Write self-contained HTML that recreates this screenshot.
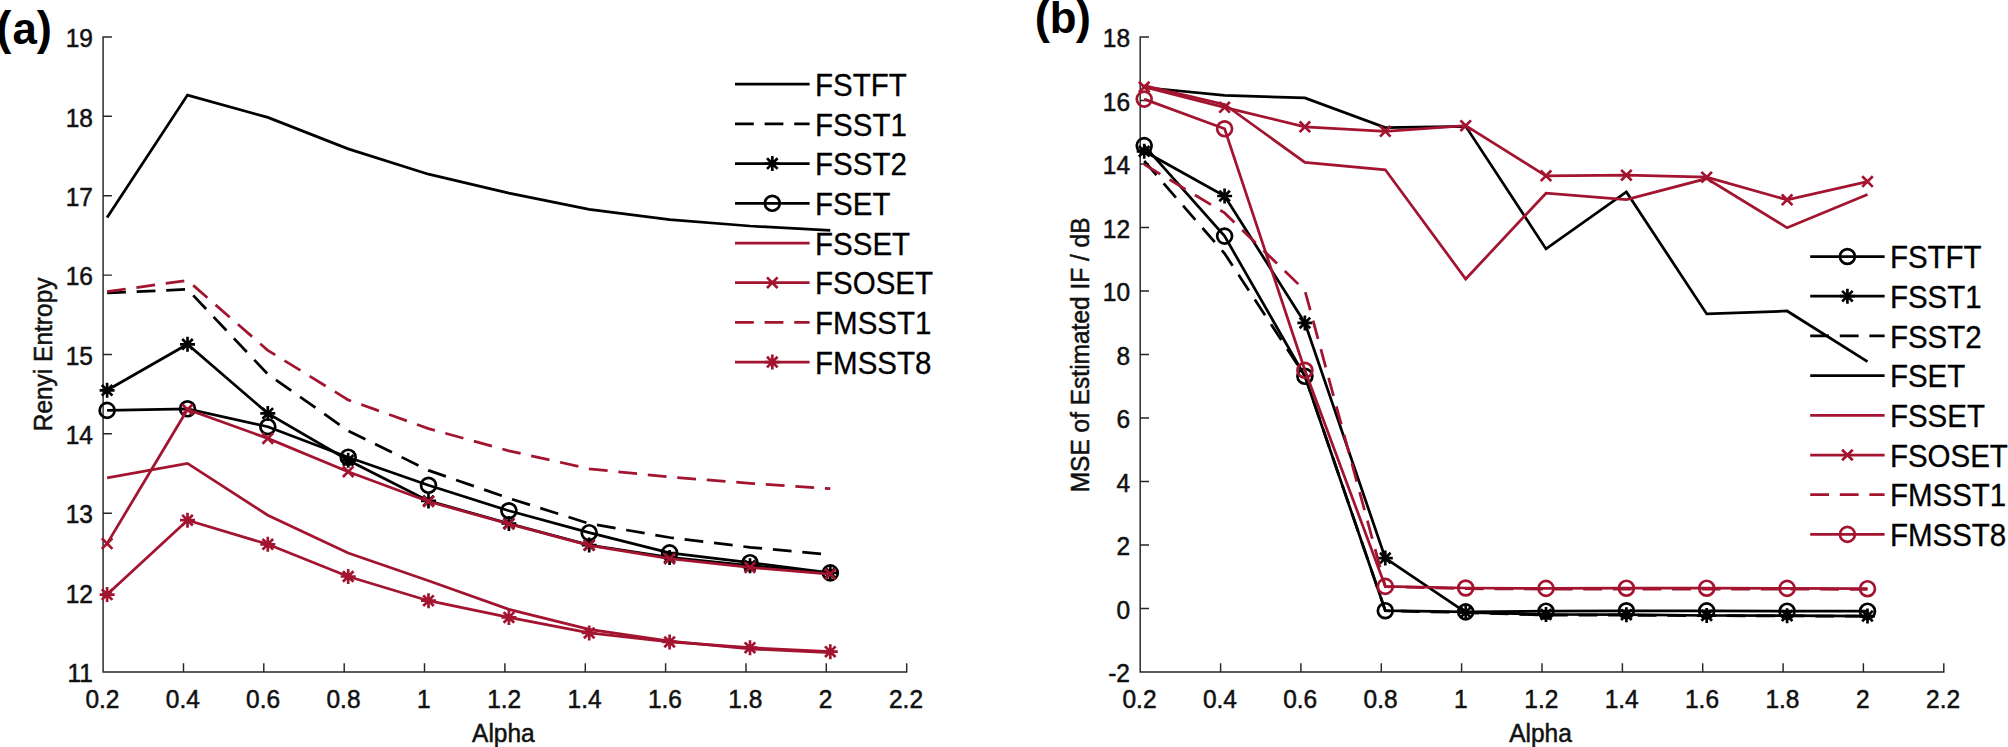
<!DOCTYPE html>
<html lang="en"><head><meta charset="utf-8"><title>Figure</title>
<style>
html,body{margin:0;padding:0;background:#fff}
svg{display:block}
text{font-family:"Liberation Sans",sans-serif;fill:#111;stroke:#111;stroke-width:0.5px}
.tk{font-size:24.5px}
.lg{font-size:29.5px;fill:#000;stroke:#000;stroke-width:0.3px}
.pl{font-size:43.8px;font-weight:bold;fill:#000;stroke:none}
.pp{font-size:45.6px}
</style></head><body>
<svg width="2008" height="747" viewBox="0 0 2008 747">
<rect width="2008" height="747" fill="#fff"/>
<text y="44.2" class="pl"><tspan x="-3.8" class="pp">(</tspan><tspan x="12.5">a</tspan><tspan x="36.8" class="pp">)</tspan></text>
<text y="33.1" class="pl"><tspan x="1034.8" class="pp">(</tspan><tspan x="1049.8">b</tspan><tspan x="1075.8" class="pp">)</tspan></text>
<path d="M103.1 36.2V672.0H907.4M103.1 672.0v-8.8M183.5 672.0v-8.8M263.8 672.0v-8.8M344.2 672.0v-8.8M424.5 672.0v-8.8M504.9 672.0v-8.8M585.3 672.0v-8.8M665.6 672.0v-8.8M746.0 672.0v-8.8M826.3 672.0v-8.8M906.7 672.0v-8.8M103.1 672.0h8.8M103.1 592.6h8.8M103.1 513.2h8.8M103.1 433.8h8.8M103.1 354.4h8.8M103.1 275.1h8.8M103.1 195.7h8.8M103.1 116.3h8.8M103.1 36.9h8.8" stroke="#262626" stroke-width="1.45" fill="none"/>
<text transform="translate(102.4 708.0) scale(1 1.03)" class="tk" text-anchor="middle">0.2</text>
<text transform="translate(182.8 708.0) scale(1 1.03)" class="tk" text-anchor="middle">0.4</text>
<text transform="translate(263.1 708.0) scale(1 1.03)" class="tk" text-anchor="middle">0.6</text>
<text transform="translate(343.5 708.0) scale(1 1.03)" class="tk" text-anchor="middle">0.8</text>
<text transform="translate(423.8 708.0) scale(1 1.03)" class="tk" text-anchor="middle">1</text>
<text transform="translate(504.2 708.0) scale(1 1.03)" class="tk" text-anchor="middle">1.2</text>
<text transform="translate(584.6 708.0) scale(1 1.03)" class="tk" text-anchor="middle">1.4</text>
<text transform="translate(664.9 708.0) scale(1 1.03)" class="tk" text-anchor="middle">1.6</text>
<text transform="translate(745.3 708.0) scale(1 1.03)" class="tk" text-anchor="middle">1.8</text>
<text transform="translate(825.6 708.0) scale(1 1.03)" class="tk" text-anchor="middle">2</text>
<text transform="translate(906.0 708.0) scale(1 1.03)" class="tk" text-anchor="middle">2.2</text>
<text transform="translate(92.9 682.2) scale(1 1.03)" class="tk" text-anchor="end">11</text>
<text transform="translate(92.9 602.8) scale(1 1.03)" class="tk" text-anchor="end">12</text>
<text transform="translate(92.9 523.4) scale(1 1.03)" class="tk" text-anchor="end">13</text>
<text transform="translate(92.9 444.0) scale(1 1.03)" class="tk" text-anchor="end">14</text>
<text transform="translate(92.9 364.6) scale(1 1.03)" class="tk" text-anchor="end">15</text>
<text transform="translate(92.9 285.2) scale(1 1.03)" class="tk" text-anchor="end">16</text>
<text transform="translate(92.9 205.9) scale(1 1.03)" class="tk" text-anchor="end">17</text>
<text transform="translate(92.9 126.5) scale(1 1.03)" class="tk" text-anchor="end">18</text>
<text transform="translate(92.9 47.1) scale(1 1.03)" class="tk" text-anchor="end">19</text>
<text transform="translate(503.4 741.6) scale(1 1.03)" class="tk" text-anchor="middle">Alpha</text>
<text transform="translate(52.2 354.4) rotate(-90) scale(1 1.03)" class="tk" text-anchor="middle">Renyi Entropy</text>
<polyline points="107.1,217.6 187.5,95.1 267.8,117.4 348.2,148.9 428.5,174.2 508.9,193.2 589.2,209.3 669.6,219.7 750.0,226.0 830.3,230.4" fill="none" stroke="#000000" stroke-width="2.75" stroke-linejoin="miter"/>
<polyline points="107.1,293.0 187.5,289.3 267.8,374.2 348.2,430.8 428.5,470.4 508.9,498.2 589.2,523.6 669.6,537.5 750.0,547.3 830.3,554.6" fill="none" stroke="#000000" stroke-width="2.75" stroke-linejoin="miter" stroke-dasharray="18.8 10.8"/>
<polyline points="107.1,390.3 187.5,344.3 267.8,413.4 348.2,460.3 428.5,500.9 508.9,523.5 589.2,545.1 669.6,557.4 750.0,565.7 830.3,572.8" fill="none" stroke="#000000" stroke-width="2.75" stroke-linejoin="miter"/>
<path d="M99.6 390.3H114.6M107.1 382.8V397.8M101.8 385.0L112.4 395.6M101.8 395.6L112.4 385.0" stroke="#000000" stroke-width="2.7" fill="none"/>
<path d="M180.0 344.3H195.0M187.5 336.8V351.8M182.2 339.0L192.8 349.6M182.2 349.6L192.8 339.0" stroke="#000000" stroke-width="2.7" fill="none"/>
<path d="M260.3 413.4H275.3M267.8 405.9V420.9M262.5 408.1L273.1 418.7M262.5 418.7L273.1 408.1" stroke="#000000" stroke-width="2.7" fill="none"/>
<path d="M340.7 460.3H355.7M348.2 452.8V467.8M342.9 455.0L353.5 465.6M342.9 465.6L353.5 455.0" stroke="#000000" stroke-width="2.7" fill="none"/>
<path d="M421.0 500.9H436.0M428.5 493.4V508.4M423.2 495.6L433.8 506.2M423.2 506.2L433.8 495.6" stroke="#000000" stroke-width="2.7" fill="none"/>
<path d="M501.4 523.5H516.4M508.9 516.0V531.0M503.6 518.2L514.2 528.8M503.6 528.8L514.2 518.2" stroke="#000000" stroke-width="2.7" fill="none"/>
<path d="M581.7 545.1H596.7M589.2 537.6V552.6M583.9 539.8L594.5 550.4M583.9 550.4L594.5 539.8" stroke="#000000" stroke-width="2.7" fill="none"/>
<path d="M662.1 557.4H677.1M669.6 549.9V564.9M664.3 552.1L674.9 562.7M664.3 562.7L674.9 552.1" stroke="#000000" stroke-width="2.7" fill="none"/>
<path d="M742.5 565.7H757.5M750.0 558.2V573.2M744.7 560.4L755.3 571.0M744.7 571.0L755.3 560.4" stroke="#000000" stroke-width="2.7" fill="none"/>
<path d="M822.8 572.8H837.8M830.3 565.3V580.3M825.0 567.5L835.6 578.1M825.0 578.1L835.6 567.5" stroke="#000000" stroke-width="2.7" fill="none"/>
<polyline points="107.1,410.4 187.5,408.8 267.8,426.7 348.2,457.2 428.5,485.3 508.9,510.8 589.2,532.7 669.6,552.9 750.0,562.7 830.3,572.9" fill="none" stroke="#000000" stroke-width="2.75" stroke-linejoin="miter"/>
<circle cx="107.1" cy="410.4" r="7.45" stroke="#000000" stroke-width="2.7" fill="none"/>
<circle cx="187.5" cy="408.8" r="7.45" stroke="#000000" stroke-width="2.7" fill="none"/>
<circle cx="267.8" cy="426.7" r="7.45" stroke="#000000" stroke-width="2.7" fill="none"/>
<circle cx="348.2" cy="457.2" r="7.45" stroke="#000000" stroke-width="2.7" fill="none"/>
<circle cx="428.5" cy="485.3" r="7.45" stroke="#000000" stroke-width="2.7" fill="none"/>
<circle cx="508.9" cy="510.8" r="7.45" stroke="#000000" stroke-width="2.7" fill="none"/>
<circle cx="589.2" cy="532.7" r="7.45" stroke="#000000" stroke-width="2.7" fill="none"/>
<circle cx="669.6" cy="552.9" r="7.45" stroke="#000000" stroke-width="2.7" fill="none"/>
<circle cx="750.0" cy="562.7" r="7.45" stroke="#000000" stroke-width="2.7" fill="none"/>
<circle cx="830.3" cy="572.9" r="7.45" stroke="#000000" stroke-width="2.7" fill="none"/>
<polyline points="107.1,477.8 187.5,463.4 267.8,515.2 348.2,553.0 428.5,580.7 508.9,609.4 589.2,629.4 669.6,641.2 750.0,648.9 830.3,652.7" fill="none" stroke="#A2142F" stroke-width="2.75" stroke-linejoin="miter"/>
<polyline points="107.1,543.6 187.5,409.5 267.8,438.4 348.2,471.7 428.5,501.5 508.9,523.9 589.2,545.3 669.6,558.7 750.0,567.4 830.3,574.1" fill="none" stroke="#A2142F" stroke-width="2.75" stroke-linejoin="miter"/>
<path d="M101.8 538.3L112.4 548.9M101.8 548.9L112.4 538.3" stroke="#A2142F" stroke-width="2.7" fill="none"/>
<path d="M182.2 404.2L192.8 414.8M182.2 414.8L192.8 404.2" stroke="#A2142F" stroke-width="2.7" fill="none"/>
<path d="M262.5 433.1L273.1 443.7M262.5 443.7L273.1 433.1" stroke="#A2142F" stroke-width="2.7" fill="none"/>
<path d="M342.9 466.4L353.5 477.0M342.9 477.0L353.5 466.4" stroke="#A2142F" stroke-width="2.7" fill="none"/>
<path d="M423.2 496.2L433.8 506.8M423.2 506.8L433.8 496.2" stroke="#A2142F" stroke-width="2.7" fill="none"/>
<path d="M503.6 518.6L514.2 529.2M503.6 529.2L514.2 518.6" stroke="#A2142F" stroke-width="2.7" fill="none"/>
<path d="M583.9 540.0L594.5 550.6M583.9 550.6L594.5 540.0" stroke="#A2142F" stroke-width="2.7" fill="none"/>
<path d="M664.3 553.4L674.9 564.0M664.3 564.0L674.9 553.4" stroke="#A2142F" stroke-width="2.7" fill="none"/>
<path d="M744.7 562.1L755.3 572.7M744.7 572.7L755.3 562.1" stroke="#A2142F" stroke-width="2.7" fill="none"/>
<path d="M825.0 568.8L835.6 579.4M825.0 579.4L835.6 568.8" stroke="#A2142F" stroke-width="2.7" fill="none"/>
<polyline points="107.1,291.6 187.5,280.4 267.8,350.3 348.2,399.9 428.5,428.6 508.9,450.8 589.2,468.8 669.6,477.0 750.0,483.3 830.3,488.7" fill="none" stroke="#A2142F" stroke-width="2.75" stroke-linejoin="miter" stroke-dasharray="18.8 10.8"/>
<polyline points="107.1,594.6 187.5,520.2 267.8,544.3 348.2,576.5 428.5,600.7 508.9,617.4 589.2,632.9 669.6,641.9 750.0,647.7 830.3,651.7" fill="none" stroke="#A2142F" stroke-width="2.75" stroke-linejoin="miter"/>
<path d="M99.6 594.6H114.6M107.1 587.1V602.1M101.8 589.3L112.4 599.9M101.8 599.9L112.4 589.3" stroke="#A2142F" stroke-width="2.7" fill="none"/>
<path d="M180.0 520.2H195.0M187.5 512.7V527.7M182.2 514.9L192.8 525.5M182.2 525.5L192.8 514.9" stroke="#A2142F" stroke-width="2.7" fill="none"/>
<path d="M260.3 544.3H275.3M267.8 536.8V551.8M262.5 539.0L273.1 549.6M262.5 549.6L273.1 539.0" stroke="#A2142F" stroke-width="2.7" fill="none"/>
<path d="M340.7 576.5H355.7M348.2 569.0V584.0M342.9 571.2L353.5 581.8M342.9 581.8L353.5 571.2" stroke="#A2142F" stroke-width="2.7" fill="none"/>
<path d="M421.0 600.7H436.0M428.5 593.2V608.2M423.2 595.4L433.8 606.0M423.2 606.0L433.8 595.4" stroke="#A2142F" stroke-width="2.7" fill="none"/>
<path d="M501.4 617.4H516.4M508.9 609.9V624.9M503.6 612.1L514.2 622.7M503.6 622.7L514.2 612.1" stroke="#A2142F" stroke-width="2.7" fill="none"/>
<path d="M581.7 632.9H596.7M589.2 625.4V640.4M583.9 627.6L594.5 638.2M583.9 638.2L594.5 627.6" stroke="#A2142F" stroke-width="2.7" fill="none"/>
<path d="M662.1 641.9H677.1M669.6 634.4V649.4M664.3 636.6L674.9 647.2M664.3 647.2L674.9 636.6" stroke="#A2142F" stroke-width="2.7" fill="none"/>
<path d="M742.5 647.7H757.5M750.0 640.2V655.2M744.7 642.4L755.3 653.0M744.7 653.0L755.3 642.4" stroke="#A2142F" stroke-width="2.7" fill="none"/>
<path d="M822.8 651.7H837.8M830.3 644.2V659.2M825.0 646.4L835.6 657.0M825.0 657.0L835.6 646.4" stroke="#A2142F" stroke-width="2.7" fill="none"/>
<line x1="735.0" y1="84.2" x2="809.6" y2="84.2" stroke="#000000" stroke-width="2.75"/>
<text transform="translate(815.1 95.8) scale(1 1.07)" class="lg">FSTFT</text>
<line x1="735.0" y1="123.9" x2="809.6" y2="123.9" stroke="#000000" stroke-width="2.75" stroke-dasharray="18.8 10.8"/>
<text transform="translate(815.1 135.5) scale(1 1.07)" class="lg">FSST1</text>
<line x1="735.0" y1="163.6" x2="809.6" y2="163.6" stroke="#000000" stroke-width="2.75"/>
<path d="M764.8 163.6H779.8M772.3 156.1V171.1M767.0 158.3L777.6 168.9M767.0 168.9L777.6 158.3" stroke="#000000" stroke-width="2.7" fill="none"/>
<text transform="translate(815.1 175.2) scale(1 1.07)" class="lg">FSST2</text>
<line x1="735.0" y1="203.3" x2="809.6" y2="203.3" stroke="#000000" stroke-width="2.75"/>
<circle cx="772.3" cy="203.3" r="7.45" stroke="#000000" stroke-width="2.7" fill="none"/>
<text transform="translate(815.1 214.9) scale(1 1.07)" class="lg">FSET</text>
<line x1="735.0" y1="243.0" x2="809.6" y2="243.0" stroke="#A2142F" stroke-width="2.75"/>
<text transform="translate(815.1 254.6) scale(1 1.07)" class="lg">FSSET</text>
<line x1="735.0" y1="282.7" x2="809.6" y2="282.7" stroke="#A2142F" stroke-width="2.75"/>
<path d="M767.0 277.4L777.6 288.0M767.0 288.0L777.6 277.4" stroke="#A2142F" stroke-width="2.7" fill="none"/>
<text transform="translate(815.1 294.3) scale(1 1.07)" class="lg">FSOSET</text>
<line x1="735.0" y1="322.4" x2="809.6" y2="322.4" stroke="#A2142F" stroke-width="2.75" stroke-dasharray="18.8 10.8"/>
<text transform="translate(815.1 334.0) scale(1 1.07)" class="lg">FMSST1</text>
<line x1="735.0" y1="362.1" x2="809.6" y2="362.1" stroke="#A2142F" stroke-width="2.75"/>
<path d="M764.8 362.1H779.8M772.3 354.6V369.6M767.0 356.8L777.6 367.4M767.0 367.4L777.6 356.8" stroke="#A2142F" stroke-width="2.7" fill="none"/>
<text transform="translate(815.1 373.7) scale(1 1.07)" class="lg">FMSST8</text>
<path d="M1140.2 36.2V672.0H1944.5M1140.2 672.0v-8.8M1220.6 672.0v-8.8M1300.9 672.0v-8.8M1381.3 672.0v-8.8M1461.6 672.0v-8.8M1542.0 672.0v-8.8M1622.4 672.0v-8.8M1702.7 672.0v-8.8M1783.1 672.0v-8.8M1863.4 672.0v-8.8M1943.8 672.0v-8.8M1140.2 672.0h8.8M1140.2 608.5h8.8M1140.2 545.0h8.8M1140.2 481.5h8.8M1140.2 418.0h8.8M1140.2 354.4h8.8M1140.2 290.9h8.8M1140.2 227.4h8.8M1140.2 163.9h8.8M1140.2 100.4h8.8M1140.2 36.9h8.8" stroke="#262626" stroke-width="1.45" fill="none"/>
<text transform="translate(1139.5 708.0) scale(1 1.03)" class="tk" text-anchor="middle">0.2</text>
<text transform="translate(1219.9 708.0) scale(1 1.03)" class="tk" text-anchor="middle">0.4</text>
<text transform="translate(1300.2 708.0) scale(1 1.03)" class="tk" text-anchor="middle">0.6</text>
<text transform="translate(1380.6 708.0) scale(1 1.03)" class="tk" text-anchor="middle">0.8</text>
<text transform="translate(1460.9 708.0) scale(1 1.03)" class="tk" text-anchor="middle">1</text>
<text transform="translate(1541.3 708.0) scale(1 1.03)" class="tk" text-anchor="middle">1.2</text>
<text transform="translate(1621.7 708.0) scale(1 1.03)" class="tk" text-anchor="middle">1.4</text>
<text transform="translate(1702.0 708.0) scale(1 1.03)" class="tk" text-anchor="middle">1.6</text>
<text transform="translate(1782.4 708.0) scale(1 1.03)" class="tk" text-anchor="middle">1.8</text>
<text transform="translate(1862.7 708.0) scale(1 1.03)" class="tk" text-anchor="middle">2</text>
<text transform="translate(1943.1 708.0) scale(1 1.03)" class="tk" text-anchor="middle">2.2</text>
<text transform="translate(1130.0 682.2) scale(1 1.03)" class="tk" text-anchor="end">-2</text>
<text transform="translate(1130.0 618.7) scale(1 1.03)" class="tk" text-anchor="end">0</text>
<text transform="translate(1130.0 555.2) scale(1 1.03)" class="tk" text-anchor="end">2</text>
<text transform="translate(1130.0 491.7) scale(1 1.03)" class="tk" text-anchor="end">4</text>
<text transform="translate(1130.0 428.2) scale(1 1.03)" class="tk" text-anchor="end">6</text>
<text transform="translate(1130.0 364.6) scale(1 1.03)" class="tk" text-anchor="end">8</text>
<text transform="translate(1130.0 301.1) scale(1 1.03)" class="tk" text-anchor="end">10</text>
<text transform="translate(1130.0 237.6) scale(1 1.03)" class="tk" text-anchor="end">12</text>
<text transform="translate(1130.0 174.1) scale(1 1.03)" class="tk" text-anchor="end">14</text>
<text transform="translate(1130.0 110.6) scale(1 1.03)" class="tk" text-anchor="end">16</text>
<text transform="translate(1130.0 47.1) scale(1 1.03)" class="tk" text-anchor="end">18</text>
<text transform="translate(1540.5 741.6) scale(1 1.03)" class="tk" text-anchor="middle">Alpha</text>
<text transform="translate(1089.1 354.9) rotate(-90) scale(1 1.03)" class="tk" text-anchor="middle">MSE of Estimated IF / dB</text>
<polyline points="1144.2,145.6 1224.6,236.1 1304.9,376.3 1385.3,610.7 1465.7,611.9 1546.0,611.2 1626.4,610.8 1706.7,610.9 1787.1,611.2 1867.5,611.2" fill="none" stroke="#000000" stroke-width="2.75" stroke-linejoin="miter"/>
<circle cx="1144.2" cy="145.6" r="7.45" stroke="#000000" stroke-width="2.7" fill="none"/>
<circle cx="1224.6" cy="236.1" r="7.45" stroke="#000000" stroke-width="2.7" fill="none"/>
<circle cx="1304.9" cy="376.3" r="7.45" stroke="#000000" stroke-width="2.7" fill="none"/>
<circle cx="1385.3" cy="610.7" r="7.45" stroke="#000000" stroke-width="2.7" fill="none"/>
<circle cx="1465.7" cy="611.9" r="7.45" stroke="#000000" stroke-width="2.7" fill="none"/>
<circle cx="1546.0" cy="611.2" r="7.45" stroke="#000000" stroke-width="2.7" fill="none"/>
<circle cx="1626.4" cy="610.8" r="7.45" stroke="#000000" stroke-width="2.7" fill="none"/>
<circle cx="1706.7" cy="610.9" r="7.45" stroke="#000000" stroke-width="2.7" fill="none"/>
<circle cx="1787.1" cy="611.2" r="7.45" stroke="#000000" stroke-width="2.7" fill="none"/>
<circle cx="1867.5" cy="611.2" r="7.45" stroke="#000000" stroke-width="2.7" fill="none"/>
<polyline points="1144.2,151.3 1224.6,196.0 1304.9,322.9 1385.3,558.1 1465.7,612.3 1546.0,614.5 1626.4,614.7 1706.7,615.5 1787.1,615.7 1867.5,616.1" fill="none" stroke="#000000" stroke-width="2.75" stroke-linejoin="miter"/>
<path d="M1136.7 151.3H1151.7M1144.2 143.8V158.8M1138.9 146.0L1149.5 156.6M1138.9 156.6L1149.5 146.0" stroke="#000000" stroke-width="2.7" fill="none"/>
<path d="M1217.1 196.0H1232.1M1224.6 188.5V203.5M1219.3 190.7L1229.9 201.3M1219.3 201.3L1229.9 190.7" stroke="#000000" stroke-width="2.7" fill="none"/>
<path d="M1297.4 322.9H1312.4M1304.9 315.4V330.4M1299.6 317.6L1310.2 328.2M1299.6 328.2L1310.2 317.6" stroke="#000000" stroke-width="2.7" fill="none"/>
<path d="M1377.8 558.1H1392.8M1385.3 550.6V565.6M1380.0 552.8L1390.6 563.4M1380.0 563.4L1390.6 552.8" stroke="#000000" stroke-width="2.7" fill="none"/>
<path d="M1458.2 612.3H1473.2M1465.7 604.8V619.8M1460.4 607.0L1471.0 617.6M1460.4 617.6L1471.0 607.0" stroke="#000000" stroke-width="2.7" fill="none"/>
<path d="M1538.5 614.5H1553.5M1546.0 607.0V622.0M1540.7 609.2L1551.3 619.8M1540.7 619.8L1551.3 609.2" stroke="#000000" stroke-width="2.7" fill="none"/>
<path d="M1618.9 614.7H1633.9M1626.4 607.2V622.2M1621.1 609.4L1631.7 620.0M1621.1 620.0L1631.7 609.4" stroke="#000000" stroke-width="2.7" fill="none"/>
<path d="M1699.2 615.5H1714.2M1706.7 608.0V623.0M1701.4 610.2L1712.0 620.8M1701.4 620.8L1712.0 610.2" stroke="#000000" stroke-width="2.7" fill="none"/>
<path d="M1779.6 615.7H1794.6M1787.1 608.2V623.2M1781.8 610.4L1792.4 621.0M1781.8 621.0L1792.4 610.4" stroke="#000000" stroke-width="2.7" fill="none"/>
<path d="M1860.0 616.1H1875.0M1867.5 608.6V623.6M1862.2 610.8L1872.8 621.4M1862.2 621.4L1872.8 610.8" stroke="#000000" stroke-width="2.7" fill="none"/>
<polyline points="1144.2,161.0 1224.6,253.5 1304.9,376.0 1385.3,610.7 1465.7,612.6 1546.0,615.2 1626.4,615.2 1706.7,615.7 1787.1,615.9 1867.5,616.2" fill="none" stroke="#000000" stroke-width="2.75" stroke-linejoin="miter" stroke-dasharray="18.8 10.8"/>
<polyline points="1144.2,87.5 1224.6,95.3 1304.9,97.9 1385.3,127.5 1465.7,126.3 1546.0,248.9 1626.4,192.0 1706.7,313.9 1787.1,311.0 1867.5,361.6" fill="none" stroke="#000000" stroke-width="2.75" stroke-linejoin="miter"/>
<polyline points="1144.2,85.6 1224.6,104.5 1304.9,162.4 1385.3,169.8 1465.7,279.0 1546.0,193.2 1626.4,199.5 1706.7,178.6 1787.1,227.8 1867.5,194.4" fill="none" stroke="#A2142F" stroke-width="2.75" stroke-linejoin="miter"/>
<polyline points="1144.2,87.0 1224.6,107.3 1304.9,126.8 1385.3,131.3 1465.7,125.7 1546.0,175.8 1626.4,175.2 1706.7,177.2 1787.1,199.8 1867.5,181.6" fill="none" stroke="#A2142F" stroke-width="2.75" stroke-linejoin="miter"/>
<path d="M1138.9 81.7L1149.5 92.3M1138.9 92.3L1149.5 81.7" stroke="#A2142F" stroke-width="2.7" fill="none"/>
<path d="M1219.3 102.0L1229.9 112.6M1219.3 112.6L1229.9 102.0" stroke="#A2142F" stroke-width="2.7" fill="none"/>
<path d="M1299.6 121.5L1310.2 132.1M1299.6 132.1L1310.2 121.5" stroke="#A2142F" stroke-width="2.7" fill="none"/>
<path d="M1380.0 126.0L1390.6 136.6M1380.0 136.6L1390.6 126.0" stroke="#A2142F" stroke-width="2.7" fill="none"/>
<path d="M1460.4 120.4L1471.0 131.0M1460.4 131.0L1471.0 120.4" stroke="#A2142F" stroke-width="2.7" fill="none"/>
<path d="M1540.7 170.5L1551.3 181.1M1540.7 181.1L1551.3 170.5" stroke="#A2142F" stroke-width="2.7" fill="none"/>
<path d="M1621.1 169.9L1631.7 180.5M1621.1 180.5L1631.7 169.9" stroke="#A2142F" stroke-width="2.7" fill="none"/>
<path d="M1701.4 171.9L1712.0 182.5M1701.4 182.5L1712.0 171.9" stroke="#A2142F" stroke-width="2.7" fill="none"/>
<path d="M1781.8 194.5L1792.4 205.1M1781.8 205.1L1792.4 194.5" stroke="#A2142F" stroke-width="2.7" fill="none"/>
<path d="M1862.2 176.3L1872.8 186.9M1862.2 186.9L1872.8 176.3" stroke="#A2142F" stroke-width="2.7" fill="none"/>
<polyline points="1144.2,164.4 1224.6,212.9 1304.9,290.5 1385.3,586.6 1465.7,588.7 1546.0,589.1 1626.4,589.1 1706.7,589.1 1787.1,589.2 1867.5,589.3" fill="none" stroke="#A2142F" stroke-width="2.75" stroke-linejoin="miter" stroke-dasharray="18.8 10.8"/>
<polyline points="1144.2,99.1 1224.6,128.8 1304.9,370.3 1385.3,586.4 1465.7,588.0 1546.0,588.4 1626.4,588.2 1706.7,588.2 1787.1,588.4 1867.5,588.7" fill="none" stroke="#A2142F" stroke-width="2.75" stroke-linejoin="miter"/>
<circle cx="1144.2" cy="99.1" r="7.45" stroke="#A2142F" stroke-width="2.7" fill="none"/>
<circle cx="1224.6" cy="128.8" r="7.45" stroke="#A2142F" stroke-width="2.7" fill="none"/>
<circle cx="1304.9" cy="370.3" r="7.45" stroke="#A2142F" stroke-width="2.7" fill="none"/>
<circle cx="1385.3" cy="586.4" r="7.45" stroke="#A2142F" stroke-width="2.7" fill="none"/>
<circle cx="1465.7" cy="588.0" r="7.45" stroke="#A2142F" stroke-width="2.7" fill="none"/>
<circle cx="1546.0" cy="588.4" r="7.45" stroke="#A2142F" stroke-width="2.7" fill="none"/>
<circle cx="1626.4" cy="588.2" r="7.45" stroke="#A2142F" stroke-width="2.7" fill="none"/>
<circle cx="1706.7" cy="588.2" r="7.45" stroke="#A2142F" stroke-width="2.7" fill="none"/>
<circle cx="1787.1" cy="588.4" r="7.45" stroke="#A2142F" stroke-width="2.7" fill="none"/>
<circle cx="1867.5" cy="588.7" r="7.45" stroke="#A2142F" stroke-width="2.7" fill="none"/>
<line x1="1810.2" y1="256.5" x2="1884.6" y2="256.5" stroke="#000000" stroke-width="2.75"/>
<circle cx="1847.4" cy="256.5" r="7.45" stroke="#000000" stroke-width="2.7" fill="none"/>
<text transform="translate(1889.9 268.1) scale(1 1.07)" class="lg">FSTFT</text>
<line x1="1810.2" y1="296.2" x2="1884.6" y2="296.2" stroke="#000000" stroke-width="2.75"/>
<path d="M1839.9 296.2H1854.9M1847.4 288.7V303.7M1842.1 290.9L1852.7 301.5M1842.1 301.5L1852.7 290.9" stroke="#000000" stroke-width="2.7" fill="none"/>
<text transform="translate(1889.9 307.8) scale(1 1.07)" class="lg">FSST1</text>
<line x1="1810.2" y1="335.9" x2="1884.6" y2="335.9" stroke="#000000" stroke-width="2.75" stroke-dasharray="18.8 10.8"/>
<text transform="translate(1889.9 347.5) scale(1 1.07)" class="lg">FSST2</text>
<line x1="1810.2" y1="375.6" x2="1884.6" y2="375.6" stroke="#000000" stroke-width="2.75"/>
<text transform="translate(1889.9 387.2) scale(1 1.07)" class="lg">FSET</text>
<line x1="1810.2" y1="415.3" x2="1884.6" y2="415.3" stroke="#A2142F" stroke-width="2.75"/>
<text transform="translate(1889.9 426.9) scale(1 1.07)" class="lg">FSSET</text>
<line x1="1810.2" y1="455.0" x2="1884.6" y2="455.0" stroke="#A2142F" stroke-width="2.75"/>
<path d="M1842.1 449.7L1852.7 460.3M1842.1 460.3L1852.7 449.7" stroke="#A2142F" stroke-width="2.7" fill="none"/>
<text transform="translate(1889.9 466.6) scale(1 1.07)" class="lg">FSOSET</text>
<line x1="1810.2" y1="494.7" x2="1884.6" y2="494.7" stroke="#A2142F" stroke-width="2.75" stroke-dasharray="18.8 10.8"/>
<text transform="translate(1889.9 506.3) scale(1 1.07)" class="lg">FMSST1</text>
<line x1="1810.2" y1="534.4" x2="1884.6" y2="534.4" stroke="#A2142F" stroke-width="2.75"/>
<circle cx="1847.4" cy="534.4" r="7.45" stroke="#A2142F" stroke-width="2.7" fill="none"/>
<text transform="translate(1889.9 546.0) scale(1 1.07)" class="lg">FMSST8</text>
</svg></body></html>
